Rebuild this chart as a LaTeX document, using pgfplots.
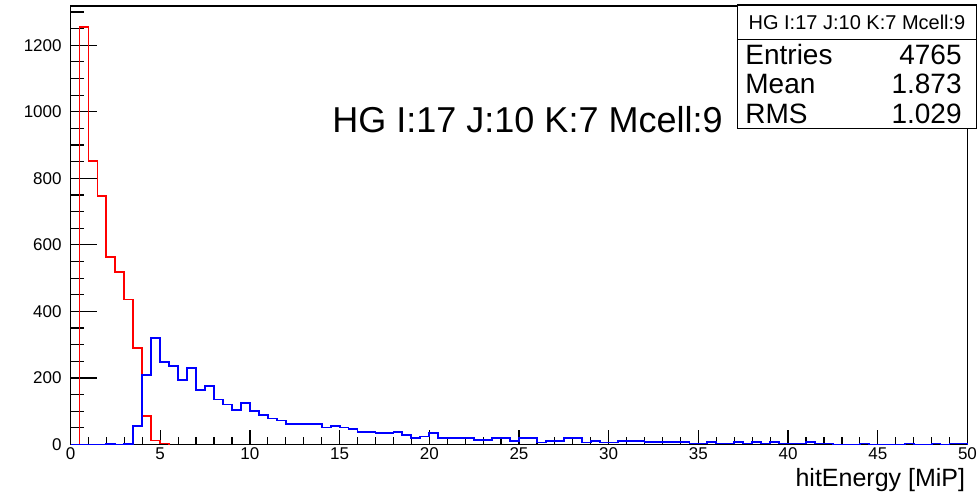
\documentclass[border=0pt]{standalone}
\usepackage{fontspec}
\setmainfont{Liberation Sans}
\usepackage{pgfplots}
\usepackage{pgfplotstable}
\pgfplotsset{compat=1.18}

\pgfplotstableread{
x y
0.0 0
0.5 1255
1.0 852
1.5 747
2.0 564
2.5 518
3.0 436
3.5 289
4.0 85
4.5 12
5.0 3
5.5 0
}\redhist

\pgfplotstableread{
x y
0.0 0
0.5 0
1.0 0
1.5 0
2.0 2
2.5 0
3.0 2
3.5 55
4.0 210
4.5 321
5.0 248
5.5 236
6.0 195
6.5 229
7.0 163
7.5 175
8.0 135
8.5 120
9.0 103
9.5 125
10.0 100
10.5 88
11.0 78
11.5 72
12.0 62
12.5 62
13.0 62
13.5 62
14.0 51
14.5 56
15.0 51
15.5 46
16.0 37
16.5 37
17.0 34
17.5 34
18.0 37
18.5 28
19.0 19
19.5 24
20.0 34
20.5 19
21.0 19
21.5 19
22.0 19
22.5 14
23.0 14
23.5 19
24.0 19
24.5 10
25.0 19
25.5 19
26.0 6
26.5 10
27.0 10
27.5 19
28.0 19
28.5 6
29.0 10
29.5 6
30.0 6
30.5 10
31.0 10
31.5 10
32.0 8
32.5 8
33.0 8
33.5 8
34.0 8
34.5 3
35.0 3
35.5 8
36.0 3
36.5 3
37.0 8
37.5 3
38.0 8
38.5 3
39.0 8
39.5 3
40.0 3
40.5 3
41.0 8
41.5 3
42.0 3
42.5 0
43.0 0
43.5 0
44.0 3
44.5 0
45.0 0
45.5 0
46.0 0
46.5 3
47.0 0
47.5 0
48.0 3
48.5 0
49.0 3
49.5 3
50.0 3
50.0 0
}\bluehist

\begin{document}
\begin{tikzpicture}[x=1pt,y=1pt]
\useasboundingbox (0,0) rectangle (490,249);
% y-axis ticks and frame
\begin{axis}[
  at={(35.25pt,26.75pt)}, anchor=south west,
  scale only axis, width=448.5pt, height=219.25pt,
  xmin=0, xmax=50, ymin=0, ymax=1318,
  axis line style={line width=0.75pt},
  xtick=\empty,
  ytick={0,200,...,1200}, minor ytick={0,50,...,1300},
  ytick pos=left, tick align=inside,
  major tick length=13.3pt, minor tick length=6.7pt,
  tick style={black, line width=0.6pt},
  /pgf/number format/assume math mode=true,
  /pgf/number format/1000 sep={},
  yticklabel style={font=\fontsize{8.5}{10}\selectfont, anchor=east, inner sep=0pt, xshift=-4.25pt},
]
\end{axis}
% x-axis ticks and data
\begin{axis}[
  at={(35.25pt,26.75pt)}, anchor=south west,
  scale only axis, width=448.5pt, height=219.25pt,
  xmin=0, xmax=50, ymin=0, ymax=1318,
  axis line style={line width=0.75pt},
  clip=false,
  ytick=\empty,
  xtick={0,5,...,50}, minor xtick={0,1,...,50},
  xtick pos=left, tick align=inside,
  major tick length=7pt, minor tick length=3.5pt,
  tick style={black, line width=0.6pt},
  /pgf/number format/assume math mode=true,
  /pgf/number format/1000 sep={},
  xticklabel style={font=\fontsize{8.5}{10}\selectfont, anchor=north, inner sep=0pt, yshift=-1.25pt},
  xlabel={hitEnergy [MiP]},
  xlabel style={at={(axis description cs:1,0)}, anchor=base east, inner sep=0pt,
    font=\fontsize{12.5}{14}\selectfont, yshift=-20.75pt, xshift=-1pt},
]
\addplot[const plot mark left, red, line width=0.9pt] table[x=x,y=y] {\redhist};
\addplot[const plot mark left, blue, line width=0.9pt] table[x=x,y=y] {\bluehist};
\end{axis}
% title
\node[anchor=base, font=\fontsize{18}{21}\selectfont, inner sep=0pt] at (263.75,182.5) {HG I:17 J:10 K:7 Mcell:9};
% stats box
\filldraw[fill=white, draw=black, line width=0.75pt] (368.65,184.85) rectangle (488.35,246.5);
\draw[line width=0.75pt] (368.65,229.35) -- (488.35,229.35);
\node[anchor=base, font=\fontsize{10}{12}\selectfont, inner sep=0pt] at (428.5,234.4) {HG I:17 J:10 K:7 Mcell:9};
\node[anchor=base west, font=\fontsize{14}{16}\selectfont, inner sep=0pt] at (372.5,216.9) {Entries};
\node[anchor=base east, font=\fontsize{14}{16}\selectfont, inner sep=0pt] at (481,216.9) {4765};
\node[anchor=base west, font=\fontsize{14}{16}\selectfont, inner sep=0pt] at (372.5,202.1) {Mean};
\node[anchor=base east, font=\fontsize{14}{16}\selectfont, inner sep=0pt] at (481,202.1) {1.873};
\node[anchor=base west, font=\fontsize{14}{16}\selectfont, inner sep=0pt] at (372.5,187.3) {RMS};
\node[anchor=base east, font=\fontsize{14}{16}\selectfont, inner sep=0pt] at (481,187.3) {1.029};
\end{tikzpicture}
\end{document}
